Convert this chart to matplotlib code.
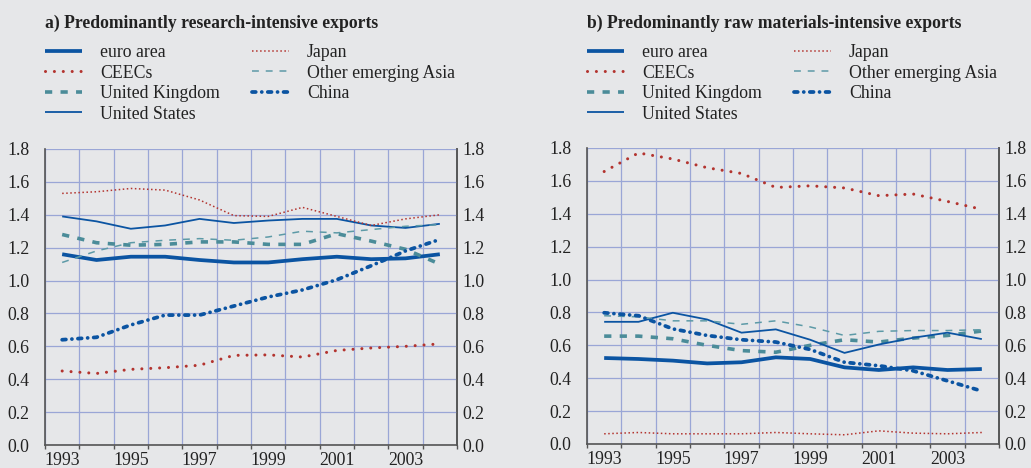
import numpy as np
import matplotlib
matplotlib.use("Agg")
import matplotlib.pyplot as plt
from matplotlib.ticker import FixedLocator

plt.rcParams['font.family'] = ['Liberation Serif', 'DejaVu Serif']

years = np.arange(1993, 2005)
year_labels = ['1993', '1995', '1997', '1999', '2001', '2003']

# a) research-intensive
a_euro = [1.16, 1.125, 1.145, 1.145, 1.125, 1.11, 1.11, 1.13, 1.145, 1.13, 1.135, 1.16]
a_ceec = [0.45, 0.435, 0.46, 0.47, 0.485, 0.545, 0.548, 0.535, 0.575, 0.59, 0.60, 0.615]
a_uk = [1.28, 1.23, 1.215, 1.22, 1.235, 1.235, 1.22, 1.22, 1.285, 1.24, 1.19, 1.10]
a_us = [1.39, 1.36, 1.315, 1.335, 1.375, 1.35, 1.365, 1.375, 1.375, 1.335, 1.32, 1.345]
a_japan = [1.53, 1.54, 1.56, 1.55, 1.49, 1.395, 1.39, 1.445, 1.39, 1.335, 1.375, 1.40]
a_asia = [1.11, 1.18, 1.23, 1.245, 1.255, 1.245, 1.265, 1.30, 1.29, 1.31, 1.33, 1.34]
a_china = [0.64, 0.655, 0.73, 0.79, 0.79, 0.845, 0.90, 0.943, 1.005, 1.09, 1.18, 1.25]

# b) raw materials-intensive
b_euro = [0.523, 0.517, 0.507, 0.49, 0.497, 0.527, 0.517, 0.466, 0.45, 0.466, 0.45, 0.456]
b_ceec = [1.657, 1.77, 1.733, 1.68, 1.645, 1.56, 1.57, 1.557, 1.51, 1.52, 1.475, 1.427]
b_uk = [0.656, 0.656, 0.64, 0.60, 0.568, 0.558, 0.60, 0.634, 0.62, 0.644, 0.66, 0.687]
b_us = [0.743, 0.743, 0.798, 0.757, 0.677, 0.697, 0.634, 0.554, 0.605, 0.646, 0.677, 0.638]
b_japan = [0.062, 0.07, 0.062, 0.062, 0.062, 0.07, 0.062, 0.056, 0.08, 0.066, 0.062, 0.07]
b_asia = [0.78, 0.773, 0.749, 0.749, 0.728, 0.749, 0.712, 0.66, 0.685, 0.69, 0.69, 0.695]
b_china = [0.798, 0.78, 0.70, 0.66, 0.634, 0.62, 0.575, 0.497, 0.476, 0.445, 0.384, 0.322]

labels = ['euro area', 'CEECs', 'United Kingdom', 'United States',
          'Japan', 'Other emerging Asia', 'China']

bg = '#E6E7E9'
grid_col = '#9AA6D6'
blue = '#0B54A2'
red = '#B3342F'
teal = '#4B8C99'
teal2 = '#5D9AA7'
txt = '#222222'

styles = [
    dict(color=blue, lw=2.7, ls='-'),
    dict(color=red, lw=2.2, ls=(0, (0.01, 2.9)), dash_capstyle='round'),
    dict(color=teal, lw=2.6, ls=(0, (2.0, 2.3))),
    dict(color=blue, lw=1.3, ls='-'),
    dict(color=red, lw=1.1, ls=':'),
    dict(color=teal2, lw=1.1, ls=(0, (4.5, 4.5))),
    dict(color=blue, lw=2.7, ls=(0, (1.0, 1.6, 0.01, 1.6)), dash_capstyle='round'),
]

yt = np.arange(0, 1.81, 0.2)
yt_labels = [f'{v:.1f}' for v in yt]


def panel(ax, series, title, x0):
    ax.set_facecolor(bg)
    handles = []
    for s, st in zip(series, styles):
        h, = ax.plot(years, s, solid_capstyle='butt', **st)
        handles.append(h)
    ax.set_xlim(1992.5, 2004.5)
    ax.set_ylim(0, 1.8)
    ax.xaxis.set_major_locator(FixedLocator(np.arange(1992.5, 2005, 1)))
    ax.xaxis.set_minor_locator(FixedLocator(np.arange(1993, 2004, 2)))
    ax.set_xticklabels([], minor=False)
    ax.set_xticklabels(year_labels, minor=True)
    ax.tick_params(axis='x', which='major', length=3, width=1.0, color='#555555', direction='out')
    ax.tick_params(axis='x', which='minor', length=0, labelsize=12.8, pad=5, labelcolor=txt)
    ax.set_yticks(yt)
    ax.set_yticklabels(yt_labels)
    ax.tick_params(axis='y', length=0, labelsize=12.8, pad=11, labelcolor=txt)
    sec = ax.secondary_yaxis('right')
    sec.set_yticks(yt)
    sec.set_yticklabels(yt_labels)
    sec.tick_params(axis='y', length=0, labelsize=12.8, pad=4, labelcolor=txt)
    sec.spines['right'].set_color('#555555')
    sec.spines['right'].set_linewidth(1.2)
    ax.grid(True, which='major', color=grid_col, lw=0.9)
    ax.set_axisbelow(True)
    ax.spines['top'].set_visible(False)
    for sp in ['left', 'right', 'bottom']:
        ax.spines[sp].set_color('#555555')
        ax.spines[sp].set_linewidth(1.2)
    fig.text(x0, 1 - 23 / 468, title, fontsize=12.7, fontweight='bold', va='center', ha='left', color=txt)
    ax.legend(handles, labels, loc='upper left', bbox_to_anchor=(x0, 1 - 44 / 468),
              bbox_transform=fig.transFigure, ncol=2, frameon=False, fontsize=12.8,
              handlelength=2.1, handletextpad=1.0, columnspacing=1.8, labelspacing=0.2,
              borderpad=0, borderaxespad=0, labelcolor=txt)


fig = plt.figure(figsize=(10.31, 4.68), dpi=100, facecolor=bg)
ax1 = fig.add_axes([45 / 1031, 1 - 445 / 468, 412 / 1031, 296 / 468])
ax2 = fig.add_axes([587 / 1031, 1 - 444 / 468, 412 / 1031, 296 / 468])

panel(ax1, [a_euro, a_ceec, a_uk, a_us, a_japan, a_asia, a_china],
      'a) Predominantly research-intensive exports', 45 / 1031)
panel(ax2, [b_euro, b_ceec, b_uk, b_us, b_japan, b_asia, b_china],
      'b) Predominantly raw materials-intensive exports', 587 / 1031)

fig.savefig('out.png', dpi=100, facecolor=bg)
